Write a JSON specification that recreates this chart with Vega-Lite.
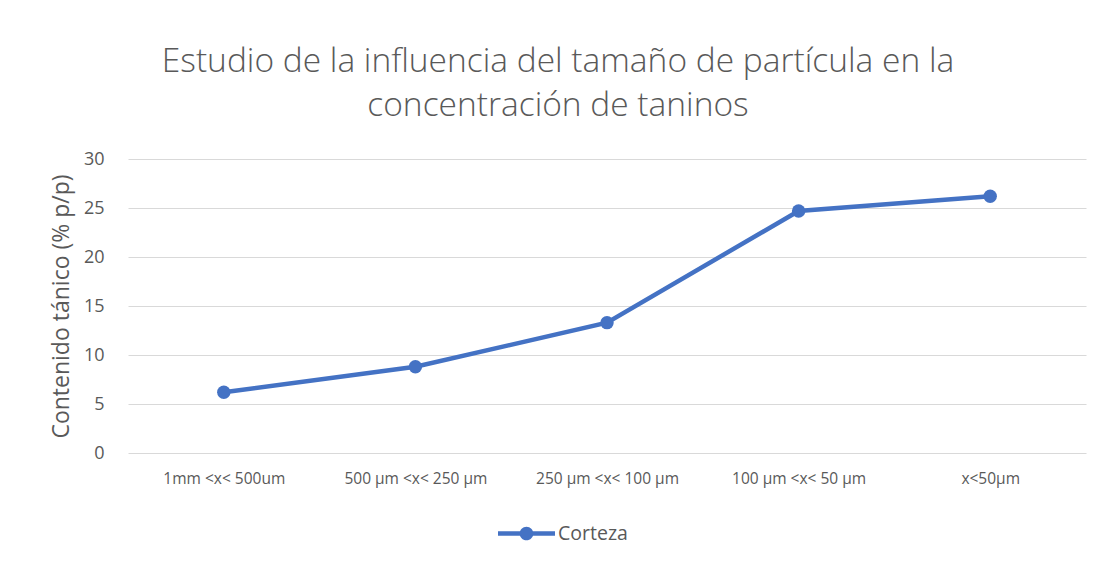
{
  "$schema": "https://vega.github.io/schema/vega-lite/v6.json",
  "width": 958,
  "height": 294,
  "autosize": "none",
  "padding": {"left": 128, "top": 159, "right": 15, "bottom": 109},
  "background": "white",
  "config": {
    "font": "Open Sans",
    "view": {"stroke": null}
  },
  "title": {
    "text": ["Estudio de la influencia del tamaño de partícula en la", "concentración de taninos"],
    "font": "Open Sans",
    "fontSize": 33.5,
    "fontWeight": 300,
    "color": "#595959",
    "anchor": "middle",
    "dx": -49,
    "lineHeight": 44,
    "offset": 27
  },
  "data": {
    "values": [
      {"tamano": "1mm <x< 500um", "contenido": 6.2, "serie": "Corteza"},
      {"tamano": "500 µm <x< 250 µm", "contenido": 8.8, "serie": "Corteza"},
      {"tamano": "250 µm <x< 100 µm", "contenido": 13.3, "serie": "Corteza"},
      {"tamano": "100 µm <x< 50 µm", "contenido": 24.7, "serie": "Corteza"},
      {"tamano": "x<50µm", "contenido": 26.2, "serie": "Corteza"}
    ]
  },
  "encoding": {
    "x": {
      "field": "tamano",
      "type": "nominal",
      "sort": null,
      "scale": {"type": "point", "padding": 0.5},
      "axis": {
        "title": null,
        "labelAngle": 0,
        "labelFontSize": 15.5,
        "labelColor": "#595959",
        "labelPadding": 18,
        "ticks": false,
        "domain": false,
        "grid": false
      }
    },
    "y": {
      "field": "contenido",
      "type": "quantitative",
      "scale": {"domain": [0, 30], "nice": false},
      "axis": {
        "title": "Contenido tánico (% p/p)",
        "titleFontSize": 23,
        "titleFontWeight": "normal",
        "titleColor": "#595959",
        "titlePadding": 10,
        "values": [0, 5, 10, 15, 20, 25, 30],
        "labelFontSize": 18,
        "labelColor": "#595959",
        "labelPadding": 24,
        "ticks": false,
        "domain": false,
        "grid": true,
        "gridColor": "#d9d9d9",
        "gridWidth": 1
      }
    },
    "color": {
      "field": "serie",
      "type": "nominal",
      "scale": {"range": ["#4472C4"]},
      "legend": {
        "title": null,
        "orient": "none",
        "legendX": 370,
        "legendY": 346,
        "symbolType": "M-1,-0.08L1,-0.08L1,0.08L-1,0.08Z M0.24,0A0.24,0.24,0,1,1,-0.24,0A0.24,0.24,0,1,1,0.24,0Z",
        "symbolSize": 3249,
        "symbolFillColor": "#4472C4",
        "symbolStrokeWidth": 0,
        "labelFontSize": 19.5,
        "labelColor": "#595959",
        "labelOffset": 3,
        "padding": 0,
        "encode": {
          "symbols": {
            "update": {
              "fill": {"value": "#4472C4"},
              "stroke": {"value": "#4472C4"},
              "strokeWidth": {"value": 0},
              "opacity": {"value": 1}
            }
          }
        }
      }
    }
  },
  "layer": [
    {"mark": {"type": "line", "strokeWidth": 4.5}},
    {"mark": {"type": "point", "filled": true, "size": 180, "opacity": 1}}
  ]
}
